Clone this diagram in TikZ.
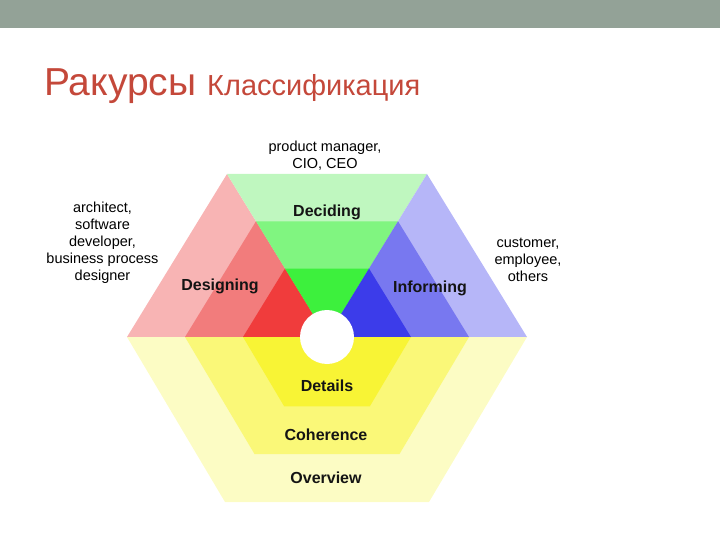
\documentclass[tikz,border=0pt]{standalone}
\usepackage{fontspec}
\setmainfont{Liberation Sans}
\definecolor{barG}{HTML}{93A297}
\definecolor{titleR}{HTML}{C4483A}
\definecolor{redA}{HTML}{F8B4B4}
\definecolor{redB}{HTML}{F27C7C}
\definecolor{redC}{HTML}{F03C3C}
\definecolor{greenA}{HTML}{BFF7BF}
\definecolor{greenB}{HTML}{80F580}
\definecolor{greenC}{HTML}{3DF03D}
\definecolor{blueA}{HTML}{B6B6F8}
\definecolor{blueB}{HTML}{7878F0}
\definecolor{blueC}{HTML}{3C3CEA}
\definecolor{yelA}{HTML}{FCFCC4}
\definecolor{yelB}{HTML}{FAF878}
\definecolor{yelC}{HTML}{F8F435}
\definecolor{labK}{HTML}{141414}
\newcommand\hexlevel[5]{%
  \begin{scope}[shift={(327,337)},scale=#1]
    \fill[#2] (0,0) -- (-200,0) -- (-100,-163) -- cycle;
    \fill[#3] (0,0) -- (-100,-163) -- (100,-163) -- cycle;
    \fill[#4] (0,0) -- (100,-163) -- (200,0) -- cycle;
    \fill[#5] (-200,0) -- (200,0) -- (102,165) -- (-102,165) -- cycle;
  \end{scope}}
\tikzset{
  boldlab/.style={font=\fontsize{16}{19}\selectfont\bfseries, text=labK, inner sep=0pt, anchor=base},
  sidelab/.style={font=\fontsize{14.5}{17}\selectfont, text=black, inner sep=0pt, align=center, anchor=center},
}
\begin{document}
\begin{tikzpicture}[x=1pt,y=-1pt]
\useasboundingbox (0,0) rectangle (720,540);
\fill[barG] (0,0) rectangle (720,28);
\node[inner sep=0pt, anchor=base west, text=titleR, font=\fontsize{39}{44}\selectfont] (t1) at (44,96) {Ракурсы};
\node[inner sep=0pt, anchor=base west, text=titleR, font=\fontsize{29}{34}\selectfont] (t2) at (207,96) {Классификация};

\hexlevel{1}{redA}{greenA}{blueA}{yelA}
\hexlevel{0.71}{redB}{greenB}{blueB}{yelB}
\hexlevel{0.42}{redC}{greenC}{blueC}{yelC}
\coordinate (C) at (327,337);
\fill[white] (C) circle[radius=27pt];

\node[boldlab] (dec) at (327,217) {Deciding};
\node[boldlab] (des) at (220,290) {Designing};
\node[boldlab] (inf) at (430,292) {Informing};
\node[boldlab] (det) at (327,391) {Details};
\node[boldlab] (coh) at (326,440) {Coherence};
\node[boldlab] (ovr) at (326,483) {Overview};

\node[sidelab] (top) at (325,155.5) {product manager,\\CIO, CEO};
\node[sidelab] (lft) at (102.5,242.5) {architect,\\software\\developer,\\business process\\designer};
\node[sidelab] (rgt) at (528,259.5) {customer,\\employee,\\others};
\end{tikzpicture}
\end{document}
